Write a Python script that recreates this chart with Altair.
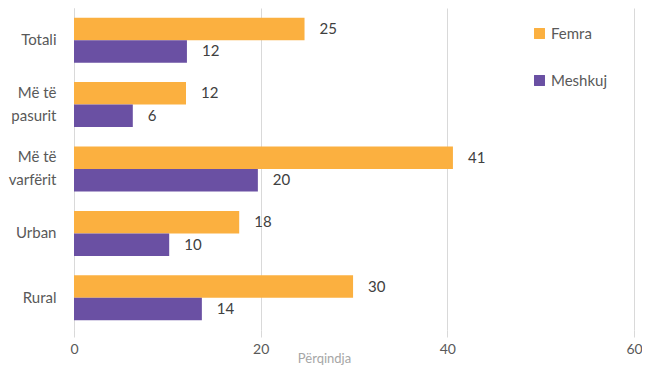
import altair as alt
import pandas as pd

categories = ["Totali", "Më të\npasurit", "Më të\nvarfërit", "Urban", "Rural"]
series = ["Femra", "Meshkuj"]
femra = [24.7, 12.0, 40.6, 17.7, 29.9]
meshkuj = [12.1, 6.3, 19.7, 10.2, 13.7]
x_ticks = [0, 20, 40, 60]
colors = ["#FBB040", "#6A50A3"]

rows = []
for c, f, m in zip(categories, femra, meshkuj):
    rows.append({"cat": c, "seria": "Femra", "v": f})
    rows.append({"cat": c, "seria": "Meshkuj", "v": m})
df = pd.DataFrame(rows)

FONT = "Lato"

y_enc = alt.Y("cat:N", sort=categories, title=None,
              scale=alt.Scale(paddingInner=0.3, paddingOuter=0.15),
              axis=alt.Axis(labelExpr="split(datum.label, '\\n')", labelFont=FONT,
                            labelFontSize=15, labelColor="#595959", labelLineHeight=23,
                            labelOffset={"condition": {"test": "indexof(datum.value, '\\n') >= 0",
                                                       "value": -12}, "value": 0},
                            ticks=False, domainColor="#d9d9d9", labelPadding=18,
                            minExtent=66, maxExtent=66, labelAlign="right"))
x_enc = alt.X("v:Q", title="Përqindja",
              scale=alt.Scale(domain=[0, 60], nice=False),
              axis=alt.Axis(values=x_ticks, grid=True, gridColor="#d9d9d9", domain=False,
                            ticks=True, tickSize=7, tickColor="#d9d9d9", labelFlush=False,
                            labelFont=FONT, labelFontSize=14, labelColor="#595959",
                            labelPadding=5, titleFont=FONT, titleFontSize=13,
                            titleFontWeight="normal", titleColor="#a6a6a6",
                            titleX=250, titleY=22, titleBaseline="top"))
color_enc = alt.Color("seria:N", sort=series,
                      scale=alt.Scale(domain=series, range=colors),
                      legend=alt.Legend(title=None, orient="none", legendX=458, legendY=18,
                                        symbolType="square", symbolSize=120,
                                        symbolStrokeWidth=0, rowPadding=31,
                                        labelFont=FONT, labelFontSize=15,
                                        labelColor="#595959", labelOffset=4))
yoff = alt.YOffset("seria:N", sort=series)

base = alt.Chart(df).encode(y=y_enc, yOffset=yoff)
bars = base.mark_bar(size=22.5).encode(x=x_enc, color=color_enc)
text = base.mark_text(align="left", dx=15, font=FONT, fontSize=15, color="#404040").encode(
    x="v:Q", text=alt.Text("v:Q", format=".0f"))

chart = alt.layer(bars, text).properties(
    width=560, height=322,
    autosize=alt.AutoSizeParams(type="none"),
    padding={"left": 66, "top": 0, "right": 8, "bottom": 35},
).configure_view(stroke=None)

chart.save("out.html", embed_options={"renderer": "svg", "actions": False})
